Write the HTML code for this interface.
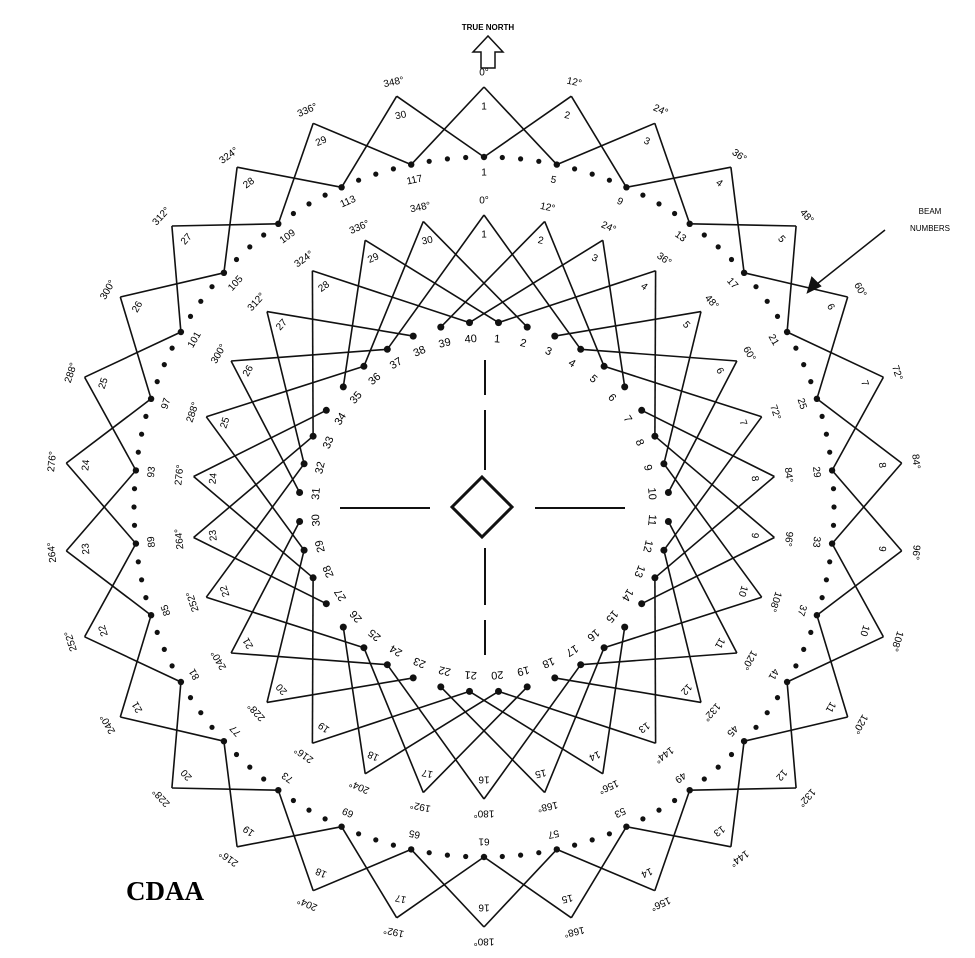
<!DOCTYPE html>
<html><head><meta charset="utf-8"><style>
html,body{margin:0;padding:0;background:#fff;}
svg{display:block;font-family:"Liberation Sans",sans-serif;}
</style></head><body>
<svg id="s" width="975" height="958" viewBox="0 0 975 958" xmlns="http://www.w3.org/2000/svg">
<rect width="975" height="958" fill="#fff"/>
<g stroke="#111" stroke-width="2" fill="none">
<line x1="340" y1="508" x2="430" y2="508"/><line x1="535" y1="508" x2="625" y2="508"/>
<line x1="485" y1="360" x2="485" y2="395"/><line x1="485" y1="410" x2="485" y2="470"/>
<line x1="485" y1="548" x2="485" y2="605"/><line x1="485" y1="620" x2="485" y2="655"/>
<polygon points="482,477 512,507 482,537 452,507" stroke-width="3"/>
<polygon points="481,68 481,52 473,52 488,36 503,52 495,52 495,68" stroke-width="1.5"/>
<line x1="812" y1="288" x2="885" y2="230" stroke-width="1.5"/>
<polygon points="808,292 812,278 820,286" fill="#111"/>
</g>
<text x="488" y="30" font-size="8" text-anchor="middle" font-weight="bold">TRUE NORTH</text>
<text x="930" y="214" font-size="8" text-anchor="middle">BEAM</text>
<text x="930" y="231" font-size="8" text-anchor="middle">NUMBERS</text>
<text x="165" y="900" font-size="27" font-weight="bold" text-anchor="middle" font-family="Liberation Serif,serif">CDAA</text>
<g id="d"></g>
</svg>
<script>
var cx=484,cy=507,g=document.getElementById('d'),o='';
function P(a,r){var t=a*Math.PI/180;return [cx+r*Math.sin(t),cy-r*Math.cos(t)];}
function L(a,b){o+='<line x1="'+a[0].toFixed(1)+'" y1="'+a[1].toFixed(1)+'" x2="'+b[0].toFixed(1)+'" y2="'+b[1].toFixed(1)+'" stroke="#111" stroke-width="1.6"/>';}
function T(a,r,s,fs){var p=P(a,r);o+='<text x="'+p[0].toFixed(1)+'" y="'+p[1].toFixed(1)+'" font-size="'+fs+'" text-anchor="middle" dominant-baseline="middle" transform="rotate('+a+' '+p[0].toFixed(1)+' '+p[1].toFixed(1)+')">'+s+'</text>';}
function C(p,r){o+='<circle cx="'+p[0].toFixed(1)+'" cy="'+p[1].toFixed(1)+'" r="'+r+'" fill="#111"/>';}
var RO=350,AO=420,RI=185,AI=292;
for(var k=0;k<30;k++){var a=12*k;
 var ap=P(a,AO);L(ap,P(a-12,RO));L(ap,P(a+12,RO));
 T(a,AO+14,a+'°',10);T(a,AO-20,(k+1),10);
 var ai=P(a,AI);
 var l=Math.round((a-28-4.5)/9)*9+4.5,r=Math.round((a+28-4.5)/9)*9+4.5;
 L(ai,P(l,RI));L(ai,P(r,RI));
 T(a,AI+14,a+'°',10);T(a,AI-20,(k+1),10);}
for(var i=0;i<120;i++){var a=3*i;C(P(a,RO),(i%4==0)?3.2:2.6);if(i%4==0)T(a,RO-16,i+1,10);}
for(var j=0;j<40;j++){var a=4.5+9*j;C(P(a,RI),3.5);T(a,RI-17,j+1,11);}
g.innerHTML=o;
</script>
</body></html>
